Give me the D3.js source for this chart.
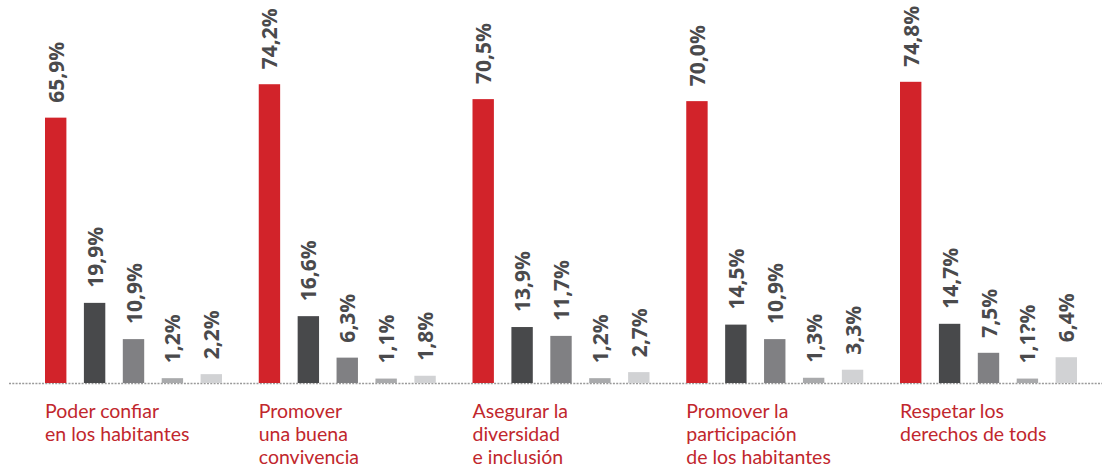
<!DOCTYPE html>
<html>
<head>
<meta charset="utf-8">
<script src="https://cdn.jsdelivr.net/npm/d3@7"></script>
<style>
  html, body { margin: 0; padding: 0; background: #fff; }
  svg { display: block; }
</style>
</head>
<body>
<svg id="chart" width="1102" height="469"></svg>
<script>
const categories = [
  ["Poder confiar", "en los habitantes"],
  ["Promover", "una buena", "convivencia"],
  ["Asegurar la", "diversidad", "e inclusión"],
  ["Promover la", "participación", "de los habitantes"],
  ["Respetar los", "derechos de tods"]
];
const seriesNames = ["s1", "s2", "s3", "s4", "s5"];
const values = [
  [65.9, 19.9, 10.9, 1.2, 2.2],
  [74.2, 16.6, 6.3, 1.1, 1.8],
  [70.5, 13.9, 11.7, 1.2, 2.7],
  [70.0, 14.5, 10.9, 1.3, 3.3],
  [74.8, 14.7, 7.5, 1.1, 6.4]
];
const valueLabels = [
  ["65,9%", "19,9%", "10,9%", "1,2%", "2,2%"],
  ["74,2%", "16,6%", "6,3%", "1,1%", "1,8%"],
  ["70,5%", "13,9%", "11,7%", "1,2%", "2,7%"],
  ["70,0%", "14,5%", "10,9%", "1,3%", "3,3%"],
  ["74,8%", "14,7%", "7,5%", "1,1?%", "6,4%"]
];
const colors = ["#d2232a", "#48494b", "#808083", "#a9aaac", "#d1d2d4"];

const svg = d3.select("#chart");
const baseY = 383;

const x0 = d3.scaleBand()
  .domain(d3.range(categories.length))
  .range([45, 45 + 213.75 * categories.length])
  .paddingInner(0).paddingOuter(0);

const x1 = d3.scaleBand()
  .domain(seriesNames)
  .range([0, 177])
  .paddingInner(0.45).paddingOuter(0);

const y = d3.scaleLinear().domain([0, 75]).range([baseY, baseY - 302]);

// baseline
svg.append("line")
  .attr("x1", 9).attr("x2", 1102)
  .attr("y1", baseY + 0.5).attr("y2", baseY + 0.5)
  .attr("stroke", "#9a9a9a")
  .attr("stroke-width", 1.5)
  .attr("stroke-dasharray", "2,1.3");

const groups = svg.selectAll("g.grp")
  .data(values.map((v, i) => ({ i, v })))
  .join("g")
  .attr("class", "grp")
  .attr("transform", d => `translate(${x0(d.i)},0)`);

groups.selectAll("rect")
  .data(d => d.v.map((val, j) => ({ val, j, i: d.i })))
  .join("rect")
  .attr("x", d => x1(seriesNames[d.j]))
  .attr("width", x1.bandwidth())
  .attr("y", d => y(d.val))
  .attr("height", d => baseY - y(d.val))
  .attr("fill", d => colors[d.j]);

groups.selectAll("text.val")
  .data(d => d.v.map((val, j) => ({ val, j, i: d.i })))
  .join("text")
  .attr("class", "val")
  .attr("transform", d => `translate(${x1(seriesNames[d.j]) + x1.bandwidth() / 2 + 8},${y(d.val) - 15}) rotate(-90)`)
  .attr("font-family", "'Open Sans', sans-serif")
  .attr("font-weight", "bold")
  .attr("font-size", 21)
  .attr("fill", "#4a4a4c")
  .text(d => valueLabels[d.i][d.j]);

groups.selectAll("text.cat")
  .data(d => [d])
  .join("text")
  .attr("class", "cat")
  .attr("font-family", "Lato, sans-serif")
  .attr("font-size", 19.5)
  .attr("fill", "#c1272d")
  .selectAll("tspan")
  .data(d => categories[d.i])
  .join("tspan")
  .attr("x", 0)
  .attr("y", (d, k) => 418 + k * 23)
  .text(d => d);
</script>
</body>
</html>
